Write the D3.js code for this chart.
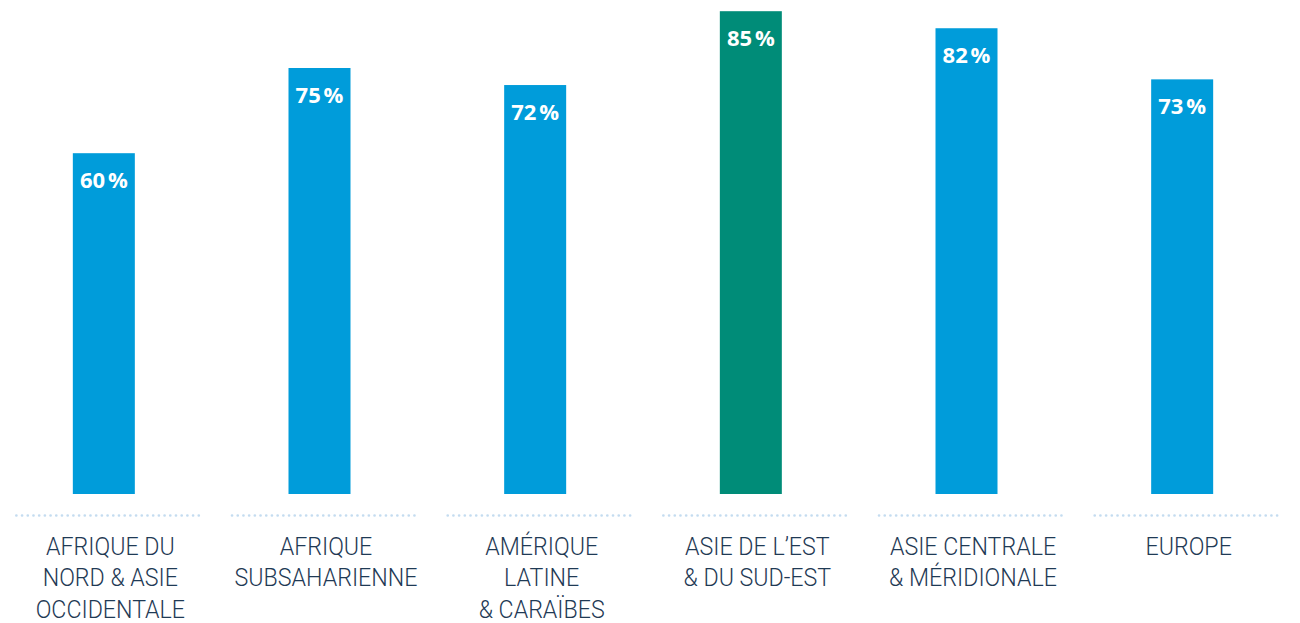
<!DOCTYPE html>
<html><head><meta charset="utf-8">
<script src="https://cdn.jsdelivr.net/npm/d3@7"></script>
<style>body{margin:0;background:#fff}svg{display:block}</style>
</head><body>
<svg id="c" width="1300" height="623"></svg>
<script>
const categories = [
  ["AFRIQUE DU", "NORD & ASIE", "OCCIDENTALE"],
  ["AFRIQUE", "SUBSAHARIENNE"],
  ["AMÉRIQUE", "LATINE", "& CARAÏBES"],
  ["ASIE DE L’EST", "& DU SUD-EST"],
  ["ASIE CENTRALE", "& MÉRIDIONALE"],
  ["EUROPE"]
];
const values = [60, 75, 72, 85, 82, 73];
const highlight = [false, false, false, true, false, false];

const svg = d3.select("#c");
const keys = categories.map((c, i) => i);
const x = d3.scaleBand().domain(keys).range([-4, 1290]).padding(0);
const y = d3.scaleLinear().domain([0, 85]).range([494, 11.2]);
const barW = 62;
const cx = i => x(i) + x.bandwidth() / 2;

const g = svg.append("g");
g.selectAll("rect.bar").data(values).join("rect")
  .attr("class", "bar")
  .attr("x", (d, i) => cx(i) - barW / 2)
  .attr("y", d => y(d))
  .attr("width", barW)
  .attr("height", d => y(0) - y(d))
  .attr("fill", (d, i) => highlight[i] ? "#008c78" : "#009cda");

g.selectAll("text.val").data(values).join("text")
  .attr("class", "val")
  .attr("x", (d, i) => cx(i))
  .attr("y", d => y(d) + 35)
  .attr("text-anchor", "middle")
  .attr("fill", "#fff")
  .attr("font-family", "'Open Sans', sans-serif")
  .attr("font-weight", 700)
  .attr("font-size", 22)
  .attr("letter-spacing", -0.3)
  .text(d => d + "\u202F%");

g.selectAll("line.sep").data(keys).join("line")
  .attr("class", "sep")
  .attr("x1", i => cx(i) + 6.5 - 94)
  .attr("x2", i => cx(i) + 6.5 + 94)
  .attr("y1", 515.5).attr("y2", 515.5)
  .attr("stroke", "#c4dcf0")
  .attr("stroke-width", 2.6)
  .attr("stroke-linecap", "round")
  .attr("stroke-dasharray", "0.1,5.6");

const lab = g.selectAll("g.cat").data(categories).join("g")
  .attr("class", "cat")
  .attr("transform", (d, i) => `translate(${cx(i) + 6.5},0) scale(0.91,1)`)
  .append("text")
  .attr("text-anchor", "middle")
  .attr("fill", "#1f3a55")
  .attr("font-family", "Roboto, sans-serif")
  .attr("font-weight", 300)
  .attr("font-size", 25.5);
lab.selectAll("tspan").data(d => d).join("tspan")
  .attr("x", 0)
  .attr("y", (d, j) => 555 + j * 31.5)
  .text(d => d);
</script>
</body></html>
